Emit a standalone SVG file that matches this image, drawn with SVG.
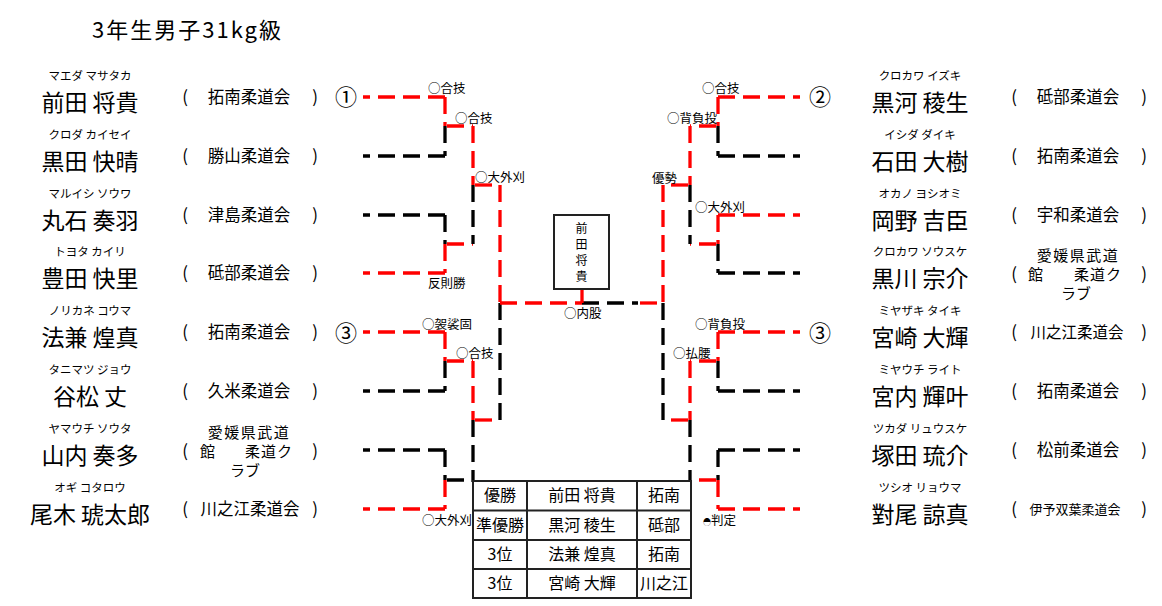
<svg xmlns="http://www.w3.org/2000/svg" width="1162" height="606" viewBox="0 0 1162 606">
<style>
text{font-family:"Noto Sans CJK JP","Noto Sans",sans-serif;fill:#000}
.title{font-size:22px;letter-spacing:2px}
.kana{font-size:11.5px;text-anchor:middle}
.nm{font-size:23px;text-anchor:middle}
.club{font-size:16.5px;text-anchor:middle}
.ml{font-size:15px;text-anchor:middle}
.par{font-size:17px;text-anchor:middle}
.lbl{font-size:12.5px}
.num{font-size:22px;text-anchor:middle}
.tb{font-size:16px;text-anchor:middle}
.bx{font-size:12px;text-anchor:middle}
.ln{fill:none;stroke-width:3.3;stroke-dasharray:17 8}
.r{stroke:#ff0000}
.k{stroke:#000}
.grid{fill:none;stroke:#222;stroke-width:2}
</style>
<rect width="1162" height="606" fill="#fff"/>
<text class="title" x="92" y="38">3年生男子31kg級</text>

<!-- left players -->
<g id="L1"><text class="kana" x="90" y="80">マエダ マサタカ</text><text class="nm" x="90" y="111">前田 将貴</text><text class="par" x="185" y="103">(</text><text class="club" x="249" y="103">拓南柔道会</text><text class="par" x="315" y="103">)</text></g>
<g id="L2"><text class="kana" x="90" y="139">クロダ カイセイ</text><text class="nm" x="90" y="170">黒田 快晴</text><text class="par" x="185" y="162">(</text><text class="club" x="249" y="162">勝山柔道会</text><text class="par" x="315" y="162">)</text></g>
<g id="L3"><text class="kana" x="90" y="198">マルイシ ソウワ</text><text class="nm" x="90" y="229">丸石 奏羽</text><text class="par" x="185" y="221">(</text><text class="club" x="249" y="221">津島柔道会</text><text class="par" x="315" y="221">)</text></g>
<g id="L4"><text class="kana" x="90" y="256">トヨタ カイリ</text><text class="nm" x="90" y="287">豊田 快里</text><text class="par" x="185" y="279">(</text><text class="club" x="249" y="279">砥部柔道会</text><text class="par" x="315" y="279">)</text></g>
<g id="L5"><text class="kana" x="90" y="315">ノリカネ コウマ</text><text class="nm" x="90" y="346">法兼 煌真</text><text class="par" x="185" y="338">(</text><text class="club" x="249" y="338">拓南柔道会</text><text class="par" x="315" y="338">)</text></g>
<g id="L6"><text class="kana" x="90" y="374">タニマツ ジョウ</text><text class="nm" x="90" y="405">谷松 丈</text><text class="par" x="185" y="397">(</text><text class="club" x="249" y="397">久米柔道会</text><text class="par" x="315" y="397">)</text></g>
<g id="L7"><text class="kana" x="90" y="433">ヤマウチ ソウタ</text><text class="nm" x="90" y="464">山内 奏多</text><text class="ml" x="249" y="438" style="letter-spacing:1.5px">愛媛県武道</text><text class="par" x="185" y="457">(</text><text class="ml" x="200" y="457" style="text-anchor:start">館</text><text class="ml" x="293" y="457" style="text-anchor:end;letter-spacing:1px">柔道ク</text><text class="par" x="315" y="457">)</text><text class="ml" x="245" y="476">ラブ</text></g>
<g id="L8"><text class="kana" x="90" y="492">オギ コタロウ</text><text class="nm" x="90" y="523">尾木 琥太郎</text><text class="par" x="185" y="515">(</text><text class="club" x="250" y="515">川之江柔道会</text><text class="par" x="315" y="515">)</text></g>

<!-- right players -->
<g id="R1"><text class="kana" x="920" y="80">クロカワ イズキ</text><text class="nm" x="920" y="111">黒河 稜生</text><text class="par" x="1014" y="103">(</text><text class="club" x="1078" y="103">砥部柔道会</text><text class="par" x="1144" y="103">)</text></g>
<g id="R2"><text class="kana" x="920" y="139">イシダ ダイキ</text><text class="nm" x="920" y="170">石田 大樹</text><text class="par" x="1014" y="162">(</text><text class="club" x="1078" y="162">拓南柔道会</text><text class="par" x="1144" y="162">)</text></g>
<g id="R3"><text class="kana" x="920" y="198">オカノ ヨシオミ</text><text class="nm" x="920" y="229">岡野 吉臣</text><text class="par" x="1014" y="221">(</text><text class="club" x="1078" y="221">宇和柔道会</text><text class="par" x="1144" y="221">)</text></g>
<g id="R4"><text class="kana" x="920" y="256">クロカワ ソウスケ</text><text class="nm" x="920" y="287">黒川 宗介</text><text class="ml" x="1078" y="261" style="letter-spacing:1.5px">愛媛県武道</text><text class="par" x="1014" y="280">(</text><text class="ml" x="1028" y="280" style="text-anchor:start">館</text><text class="ml" x="1122" y="280" style="text-anchor:end;letter-spacing:1px">柔道ク</text><text class="par" x="1144" y="280">)</text><text class="ml" x="1076" y="299">ラブ</text></g>
<g id="R5"><text class="kana" x="920" y="315">ミヤザキ タイキ</text><text class="nm" x="920" y="346">宮崎 大輝</text><text class="par" x="1014" y="338">(</text><text class="club" x="1077" y="338" style="font-size:15.5px">川之江柔道会</text><text class="par" x="1144" y="338">)</text></g>
<g id="R6"><text class="kana" x="920" y="374">ミヤウチ ライト</text><text class="nm" x="920" y="405">宮内 輝叶</text><text class="par" x="1014" y="397">(</text><text class="club" x="1078" y="397">拓南柔道会</text><text class="par" x="1144" y="397">)</text></g>
<g id="R7"><text class="kana" x="920" y="433">ツカダ リュウスケ</text><text class="nm" x="920" y="464">塚田 琉介</text><text class="par" x="1014" y="456">(</text><text class="club" x="1078" y="456">松前柔道会</text><text class="par" x="1144" y="456">)</text></g>
<g id="R8"><text class="kana" x="920" y="492">ツシオ リョウマ</text><text class="nm" x="920" y="523">對尾 諒真</text><text class="par" x="1014" y="515">(</text><text class="club" x="1075" y="514" style="font-size:13px">伊予双葉柔道会</text><text class="par" x="1144" y="515">)</text></g>

<!-- seed numbers -->
<g id="seeds">
<text class="num" x="346" y="105">①</text>
<text class="num" x="820" y="105">②</text>
<text class="num" x="346" y="341">③</text>
<text class="num" x="820" y="341">③</text>
</g>

<!-- connectors -->
<g id="connectors">
<!-- left round 1 -->
<path class="ln r" d="M445 97H363"/>
<path class="ln k" d="M445 156H363"/>
<path class="ln k" d="M445 215H363"/>
<path class="ln r" d="M445 273H363"/>
<path class="ln r" d="M445 332H363"/>
<path class="ln k" d="M445 391H363"/>
<path class="ln k" d="M445 450H363"/>
<path class="ln r" d="M445 509H363"/>
<path class="ln r" d="M445 97V126"/>
<path class="ln k" d="M445 126V156"/>
<path class="ln k" d="M445 215V244"/>
<path class="ln r" d="M445 244V273"/>
<path class="ln r" d="M445 332V361"/>
<path class="ln k" d="M445 361V391"/>
<path class="ln k" d="M445 450V480"/>
<path class="ln r" d="M445 480V509"/>
<path class="ln r" d="M447 126H473"/>
<path class="ln r" d="M447 244H473"/>
<path class="ln r" d="M447 361H473"/>
<path class="ln k" d="M447 480H473"/>
<!-- left round 2 -->
<path class="ln r" d="M473 126V185"/>
<path class="ln k" d="M473 185V244"/>
<path class="ln r" d="M473 361V420"/>
<path class="ln k" d="M473 420V482"/>
<path class="ln r" d="M475 185H500"/>
<path class="ln r" d="M475 420H500"/>
<!-- left semi -->
<path class="ln r" d="M500 185V303"/>
<path class="ln k" d="M500 303V420"/>
<!-- final -->
<path class="ln r" d="M500 303H582"/>
<path class="ln k" d="M582 303H638"/>
<path class="ln r" d="M640 303H663"/>
<path fill="none" stroke="#ff0000" stroke-width="3.3" d="M582 289V303"/>
<!-- right round 1 -->
<path class="ln r" d="M718 97H800"/>
<path class="ln k" d="M718 156H800"/>
<path class="ln r" d="M718 215H800"/>
<path class="ln k" d="M718 273H800"/>
<path class="ln r" d="M718 332H800"/>
<path class="ln k" d="M718 391H800"/>
<path class="ln k" d="M718 450H800"/>
<path class="ln r" d="M718 509H800"/>
<path class="ln r" d="M718 97V126"/>
<path class="ln k" d="M718 126V156"/>
<path class="ln r" d="M718 215V244"/>
<path class="ln k" d="M718 244V273"/>
<path class="ln r" d="M718 332V361"/>
<path class="ln k" d="M718 361V391"/>
<path class="ln k" d="M718 450V480"/>
<path class="ln r" d="M718 480V509"/>
<path class="ln r" d="M716 126H690"/>
<path class="ln r" d="M716 244H690"/>
<path class="ln r" d="M716 361H690"/>
<path class="ln r" d="M716 480H690"/>
<!-- right round 2 -->
<path class="ln r" d="M690 126V185"/>
<path class="ln k" d="M690 185V244"/>
<path class="ln r" d="M690 361V420"/>
<path class="ln k" d="M690 420V482"/>
<path class="ln r" d="M688 185H663"/>
<path class="ln r" d="M688 420H663"/>
<!-- right semi -->
<path class="ln r" d="M663 185V303"/>
<path class="ln k" d="M663 303V420"/>
</g>

<!-- result labels -->
<g id="labels">
<text class="lbl" x="428" y="93">○合技</text>
<text class="lbl" x="455" y="123">○合技</text>
<text class="lbl" x="475" y="182">○大外刈</text>
<text class="lbl" x="428" y="288">反則勝</text>
<text class="lbl" x="422" y="329">○袈裟固</text>
<text class="lbl" x="456" y="358">○合技</text>
<text class="lbl" x="422" y="525">○大外刈</text>
<text class="lbl" x="564" y="318">○内股</text>
<text class="lbl" x="702" y="93">○合技</text>
<text class="lbl" x="667" y="123">○背負投</text>
<text class="lbl" x="652" y="183">優勢</text>
<text class="lbl" x="695" y="212">○大外刈</text>
<text class="lbl" x="695" y="329">○背負投</text>
<text class="lbl" x="673" y="358">○払腰</text>
<text class="lbl" x="703" y="525"><tspan style="font-size:8px">◓</tspan>判定</text>
</g>

<!-- champion box -->
<g id="champion">
<rect x="554" y="215" width="55" height="74" fill="#fff" stroke="#222" stroke-width="2"/>
<text class="bx" x="581.5" y="233">前</text>
<text class="bx" x="581.5" y="249">田</text>
<text class="bx" x="581.5" y="265">将</text>
<text class="bx" x="581.5" y="281">貴</text>
</g>

<!-- results table -->
<g id="results">
<rect class="grid" x="473" y="481" width="218" height="117"/>
<path class="grid" d="M473 510.5H691M473 540H691M473 569H691M527 481V598M637 481V598"/>
<text class="tb" x="500" y="501">優勝</text>
<text class="tb" x="582" y="501">前田 将貴</text>
<text class="tb" x="664" y="501">拓南</text>
<text class="tb" x="500" y="531">準優勝</text>
<text class="tb" x="582" y="531">黒河 稜生</text>
<text class="tb" x="664" y="531">砥部</text>
<text class="tb" x="500" y="560">3位</text>
<text class="tb" x="582" y="560">法兼 煌真</text>
<text class="tb" x="664" y="560">拓南</text>
<text class="tb" x="500" y="589">3位</text>
<text class="tb" x="582" y="589">宮崎 大輝</text>
<text class="tb" x="664" y="589">川之江</text>
</g>
</svg>
